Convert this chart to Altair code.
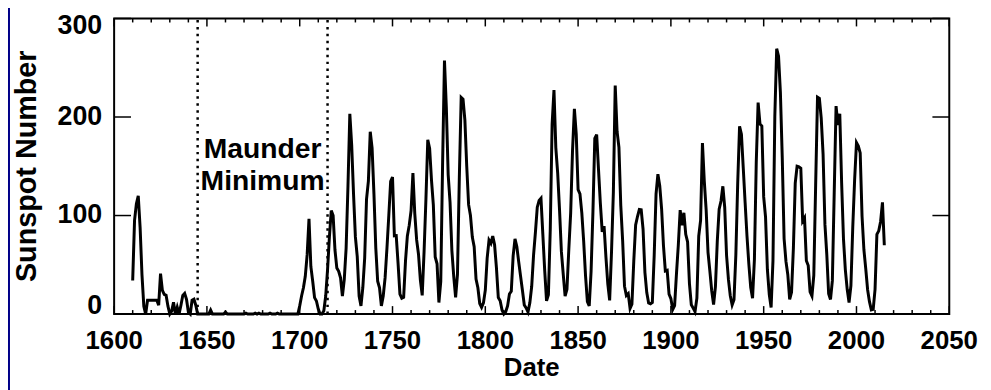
import altair as alt
import pandas as pd

# ---------------- data ----------------
years = list(range(1610, 2016))
sunspots = [
    # 1610-1699 (group numbers)
    34, 95, 112, 120, 88, 40, 8, 0, 14, 14,
    14, 14, 14, 14, 9, 41, 24, 20, 19, 8,
    0, 3, 12, 0, 7, 0, 9, 19, 21, 15,
    2, 0, 14, 15, 9, 0, 0, 0, 0, 0,
    0, 0, 4, 0, 0, 0, 0, 0, 0, 0,
    2, 0, 0, 0, 0, 0, 0, 0, 0, 0,
    0, 1, 0, 0, 0, 0, 1, 0, 1, 0,
    0, 0, 0, 0, 1, 0, 0, 0, 1, 0,
    0, 0, 0, 0, 0, 0, 0, 0, 0, 0,
    # 1700-2015
    8.3, 18.3, 26.7, 38.3, 60.0, 96.7, 48.3, 33.3, 16.7, 13.3,
    5.0, 0.0, 0.0, 3.3, 18.3, 45.0, 78.3, 105.0, 100.0, 65.0,
    46.7, 43.3, 36.7, 18.3, 35.0, 66.7, 130.0, 203.3, 171.7, 121.7,
    78.3, 58.3, 18.3, 8.3, 26.7, 56.7, 116.7, 135.0, 185.0, 168.3,
    121.7, 66.7, 33.3, 26.7, 8.3, 18.3, 36.7, 66.7, 100.0, 134.8,
    139.0, 79.5, 79.7, 51.2, 20.3, 16.0, 17.0, 54.0, 79.3, 90.0,
    104.8, 143.2, 102.0, 75.2, 60.7, 34.8, 19.0, 63.0, 116.3, 176.8,
    168.0, 136.0, 110.8, 58.0, 51.0, 11.7, 33.0, 154.2, 257.3, 209.8,
    141.3, 113.5, 64.2, 38.0, 17.0, 40.2, 138.2, 220.0, 218.2, 196.8,
    149.8, 111.0, 100.0, 78.2, 68.3, 35.5, 26.7, 10.7, 6.8, 11.3,
    24.2, 56.7, 75.0, 71.8, 79.2, 70.3, 46.8, 16.8, 13.5, 4.2,
    0.0, 2.3, 8.3, 20.3, 23.2, 59.0, 76.3, 68.3, 52.9, 38.5,
    24.2, 9.2, 6.3, 2.2, 11.4, 28.2, 59.9, 83.0, 108.5, 115.2,
    117.4, 80.8, 44.3, 13.4, 19.5, 85.8, 192.7, 227.3, 168.7, 143.0,
    105.5, 63.3, 40.3, 18.1, 25.1, 65.8, 102.7, 166.3, 208.3, 182.5,
    126.3, 122.0, 102.7, 74.1, 39.0, 12.7, 8.2, 43.4, 104.4, 178.3,
    182.2, 146.6, 112.1, 83.5, 89.2, 57.8, 30.7, 13.9, 62.8, 123.6,
    232.0, 185.3, 169.2, 110.1, 74.5, 28.3, 18.9, 20.7, 5.7, 10.0,
    53.7, 90.5, 99.0, 106.1, 105.8, 86.3, 42.4, 21.8, 11.2, 10.4,
    11.8, 59.5, 121.7, 142.0, 130.0, 106.6, 69.4, 43.8, 44.4, 20.2,
    15.7, 4.6, 8.5, 40.8, 70.1, 105.5, 90.1, 102.8, 80.9, 73.2,
    30.9, 9.5, 6.0, 2.4, 16.1, 79.0, 95.0, 173.6, 134.6, 105.7,
    62.7, 43.5, 23.7, 9.7, 27.9, 74.0, 106.5, 114.7, 129.7, 108.2,
    59.4, 35.1, 18.6, 9.2, 14.6, 60.2, 132.8, 190.6, 182.6, 148.0,
    113.0, 79.2, 50.8, 27.1, 16.1, 55.3, 154.3, 214.7, 193.0, 190.7,
    118.9, 98.3, 45.0, 20.1, 6.6, 54.2, 200.7, 269.3, 261.7, 225.1,
    159.0, 76.4, 53.4, 39.9, 15.0, 22.0, 66.8, 132.9, 150.0, 149.4,
    148.0, 94.4, 97.6, 54.1, 49.2, 22.5, 18.4, 39.3, 131.0, 220.1,
    218.9, 198.9, 162.4, 91.0, 60.5, 20.6, 14.8, 33.9, 123.0, 211.1,
    191.8, 203.3, 133.0, 76.1, 44.9, 25.1, 11.6, 28.9, 88.3, 136.3,
    173.9, 170.4, 163.6, 99.3, 65.3, 45.8, 24.7, 12.6, 4.2, 4.8,
    24.9, 80.8, 84.5, 94.0, 113.3, 69.8,
]

maunder_bounds = [1645, 1715]
annotation_x = [1680, 1680]
annotation_y = [158, 126]
annotation_text = ["Maunder", "Minimum"]

x_major_ticks = [1600, 1650, 1700, 1750, 1800, 1850, 1900, 1950, 2000, 2050]
x_minor_ticks = [y for y in range(1600, 2051, 10) if y % 50 != 0]
y_ticks = [0, 100, 200, 300]
x_title = "Date"
y_title = "Sunspot Number"

# ---------------- layout ----------------
W, H = 842, 298
NAVY = "#000088"
LABEL_FONT = "Liberation Sans, Arial, sans-serif"
TEXT_FONT = "Liberation Sans, Arial, sans-serif"

x_scale = alt.Scale(domain=[1600, 2050], nice=False, zero=False)
y_scale = alt.Scale(domain=[0, 300], nice=False, zero=False)

line_df = pd.DataFrame({"year": years, "ssn": sunspots})
maunder_df = pd.DataFrame({"year": maunder_bounds, "lo": [0, 0], "hi": [300, 300]})
ann_df = pd.DataFrame({"year": annotation_x, "ssn": annotation_y, "label": annotation_text})
xmaj_df = pd.DataFrame({"year": x_major_ticks})
xmin_df = pd.DataFrame({"year": x_minor_ticks})
ytick_df = pd.DataFrame({"ssn": y_ticks})
one = pd.DataFrame({"a": [0]})

X = lambda f: alt.X(f, type="quantitative", scale=x_scale, axis=None)
Y = lambda f: alt.Y(f, type="quantitative", scale=y_scale, axis=None)

# thin navy strip at the left edge of the page
strip = alt.Chart(one).mark_rect(color=NAVY).encode(
    x=alt.value(-120), x2=alt.value(-105), y=alt.value(-40), y2=alt.value(400)
)

# plot frame
frame = alt.Chart(one).mark_rect(
    fillOpacity=0, stroke="black", strokeWidth=2
).encode(x=alt.value(0), x2=alt.value(W), y=alt.value(0), y2=alt.value(H))

# inward tick marks
def xticks(df, length):
    bottom = alt.Chart(df).mark_rule(color="black", strokeWidth=1.5).encode(
        x=X("year"), y=alt.value(H), y2=alt.value(H - length),
    )
    top = alt.Chart(df).mark_rule(color="black", strokeWidth=1.5).encode(
        x=X("year"), y=alt.value(0), y2=alt.value(length),
    )
    return bottom + top

yt_left = alt.Chart(ytick_df).mark_rule(color="black", strokeWidth=1.5).encode(
    y=Y("ssn"), x=alt.value(0), x2=alt.value(17)
)
yt_right = alt.Chart(ytick_df).mark_rule(color="black", strokeWidth=1.5).encode(
    y=Y("ssn"), x=alt.value(W - 17), x2=alt.value(W)
)

# tick labels (as text through the scales)
xlab_style = dict(font=LABEL_FONT, fontSize=26, fontWeight="bold", color="black")
ylab_style = dict(font=LABEL_FONT, fontSize=27, fontWeight="bold", color="black")
xlabels = alt.Chart(xmaj_df).mark_text(
    align="center", baseline="middle", **xlab_style
).encode(x=X("year"), y=alt.value(H + 27), text=alt.Text("year:Q", format="d"))

def ylabels(filt, dy):
    return alt.Chart(ytick_df).transform_filter(filt).mark_text(
        align="right", baseline="middle", dx=-12, dy=dy, **ylab_style
    ).encode(y=Y("ssn"), x=alt.value(0), text=alt.Text("ssn:Q", format="d"))

ylab_mid = ylabels("datum.ssn > 0 && datum.ssn < 300", 0)
ylab_top = ylabels("datum.ssn == 300", 8)
ylab_bot = ylabels("datum.ssn == 0", -8)

xtitle = alt.Chart(one).transform_calculate(t=f"'{x_title}'").mark_text(
    align="center", baseline="middle", **xlab_style
).encode(x=alt.value(W / 2), y=alt.value(H + 54), text="t:N")

ytitle = alt.Chart(one).transform_calculate(t=f"'{y_title}'").mark_text(
    align="center", baseline="middle", angle=270,
    font=TEXT_FONT, fontSize=29, fontWeight="bold", color="black",
).encode(x=alt.value(-88), y=alt.value(H / 2), text="t:N")

maunder = alt.Chart(maunder_df).mark_rule(
    color="black", strokeWidth=2.5, strokeDash=[2.5, 4.5]
).encode(x=X("year"), y=Y("lo"), y2="hi:Q")

line = alt.Chart(line_df).mark_line(color="black", strokeWidth=3).encode(
    x=X("year"), y=Y("ssn")
)

ann = alt.Chart(ann_df).mark_text(
    font=TEXT_FONT, fontSize=28.5, fontWeight="bold", color="black",
    align="center", baseline="alphabetic",
).encode(x=X("year"), y=Y("ssn"), text="label:N")

chart = alt.layer(
    strip, xticks(xmin_df, 4), xticks(xmaj_df, 8), yt_left, yt_right,
    maunder, line, ann, frame, xlabels, ylab_mid, ylab_top, ylab_bot,
    xtitle, ytitle,
).properties(
    width=W, height=H,
    padding={"left": 107, "top": 9, "right": 34, "bottom": 75},
    autosize=alt.AutoSizeParams(type="none"),
    background="white",
).configure_view(strokeWidth=0)

chart.save("out.html", embed_options={"renderer": "svg", "actions": False})
